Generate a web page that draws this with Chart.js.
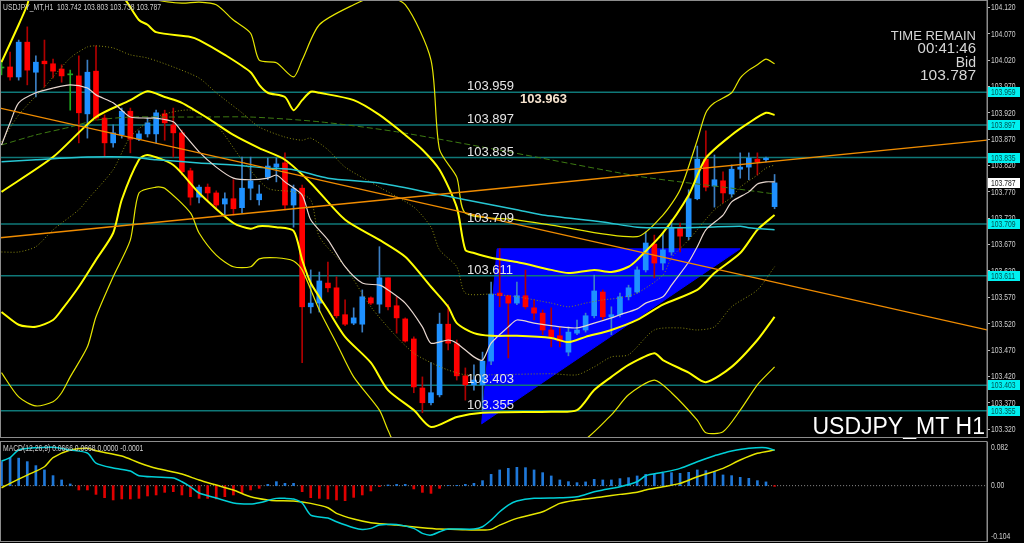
<!DOCTYPE html>
<html>
<head>
<meta charset="utf-8">
<script src="https://cdn.jsdelivr.net/npm/chart.js@4.4.1/dist/chart.umd.min.js"></script>
<style>
html, body { margin: 0; padding: 0; background: #000; overflow: hidden; }
#wrap { position: relative; width: 1024px; height: 543px; background: #000; }
#main { position: absolute; left: 0; top: 0; }
#macd { position: absolute; left: 0; top: 439px; }
</style>
</head>
<body>
<div id="wrap">
  <canvas id="main" width="1024" height="439"></canvas>
  <canvas id="macd" width="1024" height="104"></canvas>
</div>
<script>
// ---- data (USDJPY_MT H1, 91 bars) ----
var barOpen = [104.005,104.007,103.988,104.054,103.997,104.018,104.013,104.003,103.992,103.990,
  103.918,103.999,103.910,103.863,103.878,103.923,103.870,103.880,103.880,103.918,
  103.897,103.882,103.810,103.760,103.779,103.768,103.747,103.757,103.740,103.777,
  103.755,103.798,103.817,103.825,103.745,103.777,103.552,103.559,103.597,103.588,
  103.537,103.521,103.519,103.569,103.557,103.607,103.554,103.529,103.491,103.398,
  103.370,103.385,103.519,103.482,103.421,103.404,103.404,103.449,103.578,103.573,
  103.559,103.573,103.550,103.540,103.508,103.497,103.466,103.502,103.508,103.535,
  103.580,103.533,103.537,103.571,103.580,103.622,103.671,103.635,103.656,103.703,
  103.685,103.757,103.832,103.781,103.791,103.766,103.813,103.817,103.832,103.831,103.742];
var barHigh = [104.020,104.035,104.058,104.083,104.028,104.058,104.022,104.011,104.001,104.028,
  104.020,104.047,103.916,103.897,103.929,103.929,103.886,103.910,103.925,103.925,
  103.929,103.887,103.815,103.783,103.785,103.772,103.768,103.793,103.836,103.836,
  103.783,103.834,103.834,103.844,103.783,103.783,103.622,103.618,103.637,103.609,
  103.565,103.550,103.584,103.571,103.666,103.607,103.571,103.531,103.495,103.419,
  103.446,103.540,103.556,103.489,103.436,103.442,103.466,103.599,103.662,103.574,
  103.599,103.622,103.565,103.546,103.550,103.514,103.514,103.527,103.540,103.612,
  103.584,103.552,103.578,103.593,103.628,103.694,103.688,103.692,103.717,103.711,
  103.774,103.857,103.886,103.840,103.808,103.821,103.844,103.844,103.844,103.836,103.803];
var barLow = [103.992,103.982,103.982,103.973,103.950,103.969,103.986,103.978,103.925,103.863,
  103.872,103.906,103.836,103.855,103.872,103.844,103.867,103.874,103.863,103.868,
  103.836,103.802,103.745,103.749,103.751,103.740,103.726,103.726,103.730,103.755,
  103.745,103.793,103.789,103.736,103.703,103.446,103.540,103.542,103.580,103.531,
  103.516,103.518,103.504,103.556,103.540,103.546,103.502,103.485,103.389,103.351,
  103.366,103.381,103.470,103.413,103.375,103.394,103.356,103.442,103.552,103.455,
  103.556,103.548,103.527,103.499,103.476,103.476,103.459,103.499,103.504,103.531,
  103.527,103.499,103.533,103.565,103.578,103.618,103.607,103.622,103.650,103.656,
  103.679,103.755,103.772,103.741,103.749,103.760,103.796,103.793,103.802,103.827,103.738];
var barClose = [104.005,103.988,104.054,104.001,104.016,104.013,103.999,103.990,103.992,103.920,
  103.997,103.910,103.863,103.882,103.923,103.870,103.880,103.901,103.920,103.901,
  103.882,103.808,103.760,103.779,103.768,103.745,103.757,103.738,103.777,103.791,
  103.766,103.819,103.823,103.745,103.776,103.552,103.559,103.601,103.588,103.535,
  103.519,103.531,103.571,103.559,103.607,103.552,103.531,103.487,103.400,103.370,
  103.389,103.519,103.483,103.421,103.404,103.413,103.449,103.576,103.573,103.559,
  103.573,103.552,103.540,103.508,103.495,103.487,103.504,103.508,103.535,103.582,
  103.533,103.537,103.571,103.588,103.622,103.673,103.635,103.660,103.703,103.686,
  103.757,103.832,103.779,103.793,103.768,103.813,103.817,103.834,103.827,103.834,103.787];

// indicator lines: [bar, price]
var bandUpperThick = [[0,104.016],[2,104.087],[3,104.125],[4,104.172],[10,104.191],[14,104.143],[16,104.096],[17,104.087],[18,104.073],[22,104.064],[23,104.058],[26,104.030],[29,103.997],[30,103.973],[31,103.958],[33,103.950],[34,103.925],[35,103.944],[36,103.960],[37,103.958],[41,103.944],[44,103.916],[47,103.878],[49,103.850],[51,103.812],[53,103.741],[54,103.660],[55,103.654],[57,103.645],[60,103.637],[64,103.622],[66,103.616],[69,103.622],[71,103.618],[73,103.628],[74,103.641],[77,103.692],[80,103.764],[82,103.834],[85,103.878],[87,103.901],[89,103.920],[90,103.916]];
var bandUpperThin = [[0,104.210],[11,104.210],[17,104.143],[18,104.134],[21,104.128],[23,104.130],[25,104.125],[27,104.096],[29,104.071],[30,104.020],[32,104.015],[34,103.988],[35,104.020],[37,104.087],[41,104.125],[44,104.143],[47,104.125],[50,104.020],[51,103.850],[53,103.798],[54,103.730],[60,103.717],[64,103.707],[74,103.685],[77,103.726],[79,103.774],[81,103.868],[82,103.920],[83,103.939],[85,103.958],[86,103.986],[87,104.001],[88,104.011],[89,104.022],[90,104.013]];
var bandMidThick = [[0,103.770],[6,103.836],[11,103.912],[15,103.944],[17,103.961],[19,103.950],[21,103.939],[24,103.910],[27,103.878],[30,103.853],[33,103.831],[36,103.787],[40,103.717],[44,103.679],[47,103.647],[50,103.590],[52,103.552],[53,103.521],[55,103.502],[57,103.497],[60,103.497],[64,103.493],[66,103.485],[68,103.495],[71,103.508],[74,103.527],[77,103.556],[81,103.584],[83,103.616],[86,103.654],[88,103.698],[90,103.726]];
var bandLowerThick = [[0,103.542],[2,103.518],[4,103.514],[6,103.527],[7,103.546],[9,103.590],[11,103.641],[13,103.692],[14,103.755],[16,103.831],[17,103.840],[20,103.821],[23,103.768],[27,103.711],[29,103.700],[30,103.705],[32,103.703],[34,103.696],[35,103.641],[36,103.597],[38,103.546],[40,103.495],[43,103.446],[45,103.394],[48,103.356],[50,103.324],[53,103.343],[56,103.351],[64,103.353],[67,103.356],[69,103.394],[71,103.419],[73,103.442],[76,103.464],[77,103.451],[80,103.427],[82,103.409],[85,103.438],[88,103.489],[90,103.533]];
var bandLowerThin = [[0,103.427],[2,103.381],[4,103.364],[6,103.372],[7,103.389],[8,103.419],[10,103.476],[11,103.533],[13,103.609],[15,103.679],[16,103.768],[18,103.779],[19,103.777],[22,103.730],[23,103.692],[25,103.650],[27,103.628],[29,103.628],[30,103.643],[32,103.645],[34,103.639],[35,103.622],[37,103.546],[39,103.483],[41,103.419],[44,103.356],[45,103.318],[46,103.290],[56,103.243],[67,103.290],[71,103.347],[73,103.385],[76,103.413],[78,103.389],[81,103.337],[82,103.313],[84,103.315],[86,103.356],[88,103.404],[90,103.438]];
var dotUpper = [[0,103.865],[2,103.916],[5,103.969],[8,104.024],[10,104.045],[11,104.047],[13,104.043],[15,104.030],[17,104.024],[20,104.007],[23,103.986],[25,103.958],[28,103.920],[30,103.893],[33,103.874],[35,103.868],[36,103.872],[38,103.850],[40,103.817],[44,103.779],[48,103.741],[50,103.703],[51,103.660],[53,103.628],[54,103.578],[57,103.576],[60,103.571],[64,103.559],[66,103.552],[68,103.559],[70,103.565],[72,103.569],[74,103.578],[77,103.612],[78,103.645],[80,103.679],[83,103.736],[85,103.760],[86,103.779],[88,103.802],[89,103.815],[90,103.821]];
var dotLower = [[0,103.656],[2,103.656],[4,103.666],[6,103.698],[9,103.736],[10,103.755],[13,103.812],[15,103.874],[18,103.912],[22,103.925],[25,103.897],[28,103.831],[31,103.777],[34,103.770],[36,103.755],[37,103.685],[40,103.628],[43,103.552],[46,103.495],[48,103.464],[50,103.446],[52,103.432],[54,103.423],[57,103.423],[64,103.425],[67,103.423],[69,103.438],[71,103.457],[73,103.461],[76,103.508],[79,103.512],[81,103.508],[83,103.514],[85,103.552],[88,103.584],[90,103.628]];
var fastMA = [[0,103.859],[1,103.901],[2,103.939],[4,103.958],[6,103.967],[8,103.973],[10,103.967],[11,103.954],[13,103.939],[14,103.925],[15,103.912],[17,103.910],[18,103.910],[20,103.903],[21,103.884],[23,103.846],[25,103.817],[27,103.796],[29,103.793],[31,103.796],[32,103.802],[33,103.789],[35,103.764],[36,103.717],[38,103.679],[40,103.628],[42,103.597],[44,103.593],[45,103.584],[47,103.559],[49,103.514],[50,103.483],[52,103.489],[53,103.483],[55,103.457],[56,103.451],[57,103.483],[59,103.514],[60,103.527],[62,103.521],[65,103.514],[67,103.512],[69,103.521],[71,103.531],[72,103.537],[74,103.548],[75,103.559],[77,103.571],[78,103.593],[80,103.637],[81,103.666],[82,103.698],[84,103.726],[85,103.751],[87,103.770],[88,103.785],[89,103.789],[90,103.789]];
var slowMA = [[0,103.827],[4,103.831],[10,103.836],[15,103.836],[18,103.831],[23,103.825],[27,103.821],[31,103.815],[34,103.812],[38,103.796],[44,103.787],[50,103.768],[54,103.755],[60,103.736],[63,103.726],[70,103.713],[74,103.703],[78,103.702],[82,103.703],[86,103.705],[87,103.702],[90,103.698]];
var dashMA = [[0,103.859],[4,103.878],[8,103.893],[11,103.906],[15,103.912],[19,103.912],[23,103.912],[29,103.912],[37,103.903],[46,103.884],[59,103.846],[74,103.800],[79,103.789],[85,103.777],[90,103.766]];

// drawn objects
var levels = [103.959, 103.897, 103.835, 103.709, 103.611, 103.403, 103.355];
var trendDown = [[-0.175,103.929],[114.73,103.508]];
var trendUp = [[-0.175,103.683],[114.73,103.868]];
var triangle = [[55.9,103.330],[57.7,103.662],[86.0,103.662],[55.9,103.330]];
var priceTicks = [104.120,104.070,104.020,103.970,103.920,103.870,103.820,103.770,103.720,103.670,103.620,103.570,103.520,103.470,103.420,103.370,103.320];
var bidPrice = 103.787;

// MACD(12,26,9)
var macdHist = [0.0451,0.0526,0.0517,0.0451,0.0376,0.0295,0.0188,0.0107,0.0032,-0.0081,
  -0.0081,-0.0164,-0.0226,-0.0269,-0.0250,-0.0250,-0.0239,-0.0194,-0.0175,-0.0126,
  -0.0113,-0.0175,-0.0207,-0.0239,-0.0239,-0.0250,-0.0207,-0.0175,-0.0145,-0.0081,
  -0.0051,0.0024,0.0075,0.0043,0.0043,-0.0113,-0.0226,-0.0239,-0.0250,-0.0269,
  -0.0282,-0.0220,-0.0175,-0.0100,-0.0019,0.0013,0.0024,0.0024,-0.0062,-0.0126,
  -0.0145,-0.0051,0.0004,0.0006,0.0024,0.0043,0.0094,0.0212,0.0295,0.0325,
  0.0344,0.0338,0.0295,0.0244,0.0182,0.0107,0.0075,0.0056,0.0070,0.0118,
  0.0107,0.0107,0.0132,0.0150,0.0182,0.0212,0.0212,0.0231,0.0244,0.0231,
  0.0250,0.0295,0.0282,0.0263,0.0201,0.0188,0.0156,0.0137,0.0094,0.0070,-0.0013];
var macdMain = [[0,0.0462],[1,0.0525],[2,0.0669],[4,0.0713],[6,0.0720],[8,0.0669],[10,0.0613],[11,0.0425],[13,0.0331],[15,0.0274],[16,0.0186],[18,0.0162],[20,0.0143],[21,0.0073],[22,-0.0021],[23,-0.0139],[25,-0.0233],[27,-0.0327],[29,-0.0346],[30,-0.0321],[32,-0.0239],[33,-0.0239],[34,-0.0252],[35,-0.0327],[36,-0.0553],[38,-0.0609],[39,-0.0679],[41,-0.0791],[42,-0.0822],[43,-0.0803],[44,-0.0741],[46,-0.0728],[48,-0.0803],[49,-0.0897],[50,-0.0929],[51,-0.0867],[52,-0.0816],[55,-0.0816],[56,-0.0773],[57,-0.0647],[58,-0.0491],[59,-0.0365],[60,-0.0290],[62,-0.0239],[65,-0.0227],[67,-0.0209],[69,-0.0115],[70,-0.0083],[72,-0.0021],[74,0.0073],[75,0.0186],[77,0.0250],[79,0.0325],[81,0.0449],[83,0.0562],[84,0.0607],[85,0.0650],[87,0.0701],[89,0.0713],[90,0.0666]];
var macdSignal = [[0,-0.0039],[1,0.0043],[3,0.0199],[5,0.0355],[6,0.0525],[8,0.0669],[10,0.0701],[11,0.0656],[14,0.0556],[16,0.0431],[18,0.0325],[21,0.0218],[23,0.0105],[25,0.0011],[27,-0.0083],[29,-0.0209],[31,-0.0271],[32,-0.0284],[34,-0.0290],[36,-0.0333],[38,-0.0415],[39,-0.0521],[41,-0.0628],[43,-0.0697],[45,-0.0728],[46,-0.0741],[49,-0.0791],[51,-0.0816],[53,-0.0822],[56,-0.0835],[57,-0.0822],[58,-0.0741],[60,-0.0615],[63,-0.0491],[65,-0.0333],[67,-0.0271],[70,-0.0209],[72,-0.0164],[74,-0.0126],[75,-0.0083],[77,-0.0021],[79,0.0043],[81,0.0167],[84,0.0325],[86,0.0481],[88,0.0607],[90,0.0668]];
var macdTicks = [0.082, 0, -0.104];

// ---- helpers ----
var X_MIN = -0.175, X_MAX = 114.73;
var SANS = "'Liberation Sans', Arial, sans-serif";
var SMALL = "8.5px 'Liberation Sans', Arial, sans-serif";

function pts(arr) {
    return arr.map(function (p) { return { x: p[0], y: p[1] }; });
}
function line(arr, color, width, dash, order) {
    return {
        type: 'line', data: pts(arr), borderColor: color, borderWidth: width,
        borderDash: dash || [], pointRadius: 0, tension: 0.25, fill: false, order: order
    };
}
function candleColor(i, up, down, flat) {
    var d = barClose[i] - barOpen[i];
    return d > 0 ? up : (d < 0 ? down : flat);
}
// MT4 uses a narrow terminal font, squeeze the small text horizontally
function narrowText(ctx, text, x, y) {
    ctx.save();
    ctx.translate(x, y);
    ctx.scale(0.8, 1);
    ctx.fillText(text, 0, 0);
    ctx.restore();
}

var datasets = [];
datasets.push({
    type: 'line', data: pts(triangle), borderColor: '#0000ff', backgroundColor: '#0000ff',
    borderWidth: 1, pointRadius: 0, tension: 0, fill: 'shape', order: 100
});
levels.forEach(function (v) {
    datasets.push(line([[X_MIN, v], [X_MAX, v]], '#0f7878', 1.5, null, 90));
});
datasets.push({
    type: 'bar', grouped: false, barThickness: 1, order: 50,
    data: barOpen.map(function (o, i) { return { x: i, y: [barLow[i], barHigh[i]] }; }),
    backgroundColor: function (c) { return candleColor(c.dataIndex, '#3c7fc4', '#b00000', '#1fa81f'); }
});
datasets.push({
    type: 'bar', grouped: false, barThickness: 5, minBarLength: 1, order: 40,
    data: barOpen.map(function (o, i) { return { x: i, y: [o, barClose[i]] }; }),
    backgroundColor: function (c) { return candleColor(c.dataIndex, '#1e90ff', '#ff0000', '#1fa81f'); }
});
datasets.push(line(dotUpper, '#8a8a10', 1, [1, 2], 30));
datasets.push(line(dotLower, '#8a8a10', 1, [1, 2], 30));
datasets.push(line(dashMA, '#3d7a12', 1, [6, 3], 30));
datasets.push(line(bandUpperThin, '#e6e600', 1.2, null, 28));
datasets.push(line(bandLowerThin, '#e6e600', 1.2, null, 28));
datasets.push(line(bandUpperThick, '#ffff00', 2, null, 27));
datasets.push(line(bandMidThick, '#ffff00', 2, null, 27));
datasets.push(line(bandLowerThick, '#ffff00', 2, null, 27));
datasets.push(line(slowMA, '#27c6d2', 1.5, null, 20));
datasets.push(line(fastMA, '#e8d8d0', 1.2, null, 19));
datasets.push(line(trendDown, '#f08c00', 1.3, null, 10));
datasets.push(line(trendUp, '#f08c00', 1.3, null, 10));

var mainOverlay = {
    id: 'mainOverlay',
    afterDatasetsDraw: function (chart) {
        var ctx = chart.ctx, y = chart.scales.y;
        ctx.save();
        ctx.font = '13px ' + SANS;
        ctx.fillStyle = '#e6e6e6';
        ctx.textAlign = 'left';
        ctx.textBaseline = 'alphabetic';
        levels.forEach(function (v) {
            ctx.fillText(v.toFixed(3), 467, y.getPixelForValue(v) - 2);
        });
        ctx.font = 'bold 13px ' + SANS;
        ctx.fillStyle = '#f7e4cf';
        ctx.textBaseline = 'top';
        ctx.fillText('103.963', 520, y.getPixelForValue(103.963) + 3);

        ctx.fillStyle = '#d6d6d6';
        ctx.textAlign = 'right';
        ctx.textBaseline = 'alphabetic';
        ctx.font = '13px ' + SANS;
        ctx.fillText('TIME REMAIN', 976, 39.5);
        ctx.font = '15px ' + SANS;
        ctx.fillText('00:41:46', 976, 52.5);
        ctx.font = '14px ' + SANS;
        ctx.fillText('Bid', 976, 66.5);
        ctx.font = '15.5px ' + SANS;
        ctx.fillText(bidPrice.toFixed(3), 976, 80);

        ctx.fillStyle = '#ffffff';
        ctx.font = '23px ' + SANS;
        ctx.fillText('USDJPY_MT H1', 985, 434);

        ctx.textAlign = 'left';
        ctx.fillStyle = '#cfcfcf';
        ctx.font = SMALL;
        narrowText(ctx, 'USDJPY_MT,H1  ' + [barOpen[90], barHigh[90], barLow[90], barClose[90]].map(function (v) { return v.toFixed(3); }).join(' '), 3, 10);
        ctx.restore();
    },
    afterDraw: function (chart) {
        var ctx = chart.ctx, a = chart.chartArea, y = chart.scales.y;
        ctx.save();
        ctx.font = SMALL;
        ctx.textAlign = 'left';
        ctx.textBaseline = 'middle';
        ctx.fillStyle = '#d0d0d0';
        y.ticks.forEach(function (t) {
            narrowText(ctx, t.value.toFixed(3), a.right + 4, y.getPixelForValue(t.value) + 0.5);
        });
        levels.concat([bidPrice]).forEach(function (v, k) {
            var py = Math.round(y.getPixelForValue(v));
            ctx.fillStyle = k < levels.length ? '#00f0f0' : '#ffffff';
            ctx.fillRect(a.right + 1, py - 5, 32, 10);
            ctx.fillStyle = k < levels.length ? '#005050' : '#202020';
            narrowText(ctx, v.toFixed(3), a.right + 4, py + 0.5);
        });
        ctx.strokeStyle = '#8c8c8c';
        ctx.lineWidth = 1;
        ctx.strokeRect(0.5, 0.5, a.right - 0.5, a.bottom);
        ctx.restore();
    }
};

new Chart(document.getElementById('main'), {
    type: 'bar',
    data: { datasets: datasets },
    options: {
        responsive: false,
        animation: false,
        events: [],
        layout: { padding: { top: 0, bottom: 2, left: 0, right: 0 } },
        plugins: { legend: { display: false }, tooltip: { enabled: false } },
        scales: {
            x: { type: 'linear', min: X_MIN, max: X_MAX, offset: false, display: false },
            y: {
                position: 'right', min: 103.305, max: 104.134,
                afterFit: function (s) { s.width = 37; s.paddingTop = 0; s.paddingBottom = 0; },
                afterBuildTicks: function (s) { s.ticks = priceTicks.map(function (v) { return { value: v }; }); },
                ticks: { display: false },
                grid: { drawOnChartArea: false, tickLength: 3, color: '#bdbdbd' },
                border: { color: '#8c8c8c' }
            }
        }
    },
    plugins: [mainOverlay]
});

// ---- MACD panel ----
var macdOverlay = {
    id: 'macdOverlay',
    afterDraw: function (chart) {
        var ctx = chart.ctx, a = chart.chartArea, y = chart.scales.y;
        ctx.save();
        ctx.font = SMALL;
        ctx.fillStyle = '#d0d0d0';
        ctx.textAlign = 'left';
        ctx.textBaseline = 'top';
        narrowText(ctx, macdTicks[0].toFixed(3), a.right + 4, a.top + 1);
        ctx.textBaseline = 'middle';
        narrowText(ctx, macdTicks[1].toFixed(2), a.right + 4, y.getPixelForValue(macdTicks[1]));
        ctx.textBaseline = 'bottom';
        narrowText(ctx, macdTicks[2].toFixed(3), a.right + 4, a.bottom);
        ctx.textBaseline = 'alphabetic';
        ctx.fillStyle = '#cfcfcf';
        narrowText(ctx, 'MACD(12,26,9) 0.0666 0.0668 0.0000 -0.0001', 3, a.top + 9);
        ctx.strokeStyle = '#8c8c8c';
        ctx.lineWidth = 1;
        ctx.strokeRect(0.5, a.top - 0.5, a.right - 0.5, a.bottom - a.top + 1);
        ctx.restore();
    }
};

new Chart(document.getElementById('macd'), {
    type: 'bar',
    data: {
        datasets: [
            line([[X_MIN, 0], [X_MAX, 0]], '#8c8c8c', 1, [1, 2], 10),
            {
                type: 'bar', grouped: false, barThickness: 2, order: 5,
                data: macdHist.map(function (v, i) { return { x: i, y: v }; }),
                backgroundColor: function (c) { return macdHist[c.dataIndex] >= 0 ? '#1f78d8' : '#e00000'; }
            },
            line(macdSignal, '#e6e600', 1.5, null, 2),
            line(macdMain, '#00d0d8', 1.5, null, 1)
        ]
    },
    options: {
        responsive: false,
        animation: false,
        events: [],
        layout: { padding: { top: 3, bottom: 2, left: 0, right: 0 } },
        plugins: { legend: { display: false }, tooltip: { enabled: false } },
        scales: {
            x: { type: 'linear', min: X_MIN, max: X_MAX, offset: false, display: false },
            y: {
                position: 'right', min: -0.104, max: 0.082,
                afterFit: function (s) { s.width = 37; s.paddingTop = 0; s.paddingBottom = 0; },
                ticks: { display: false },
                grid: { display: false },
                border: { color: '#8c8c8c' }
            }
        }
    },
    plugins: [macdOverlay]
});
</script>
</body>
</html>
